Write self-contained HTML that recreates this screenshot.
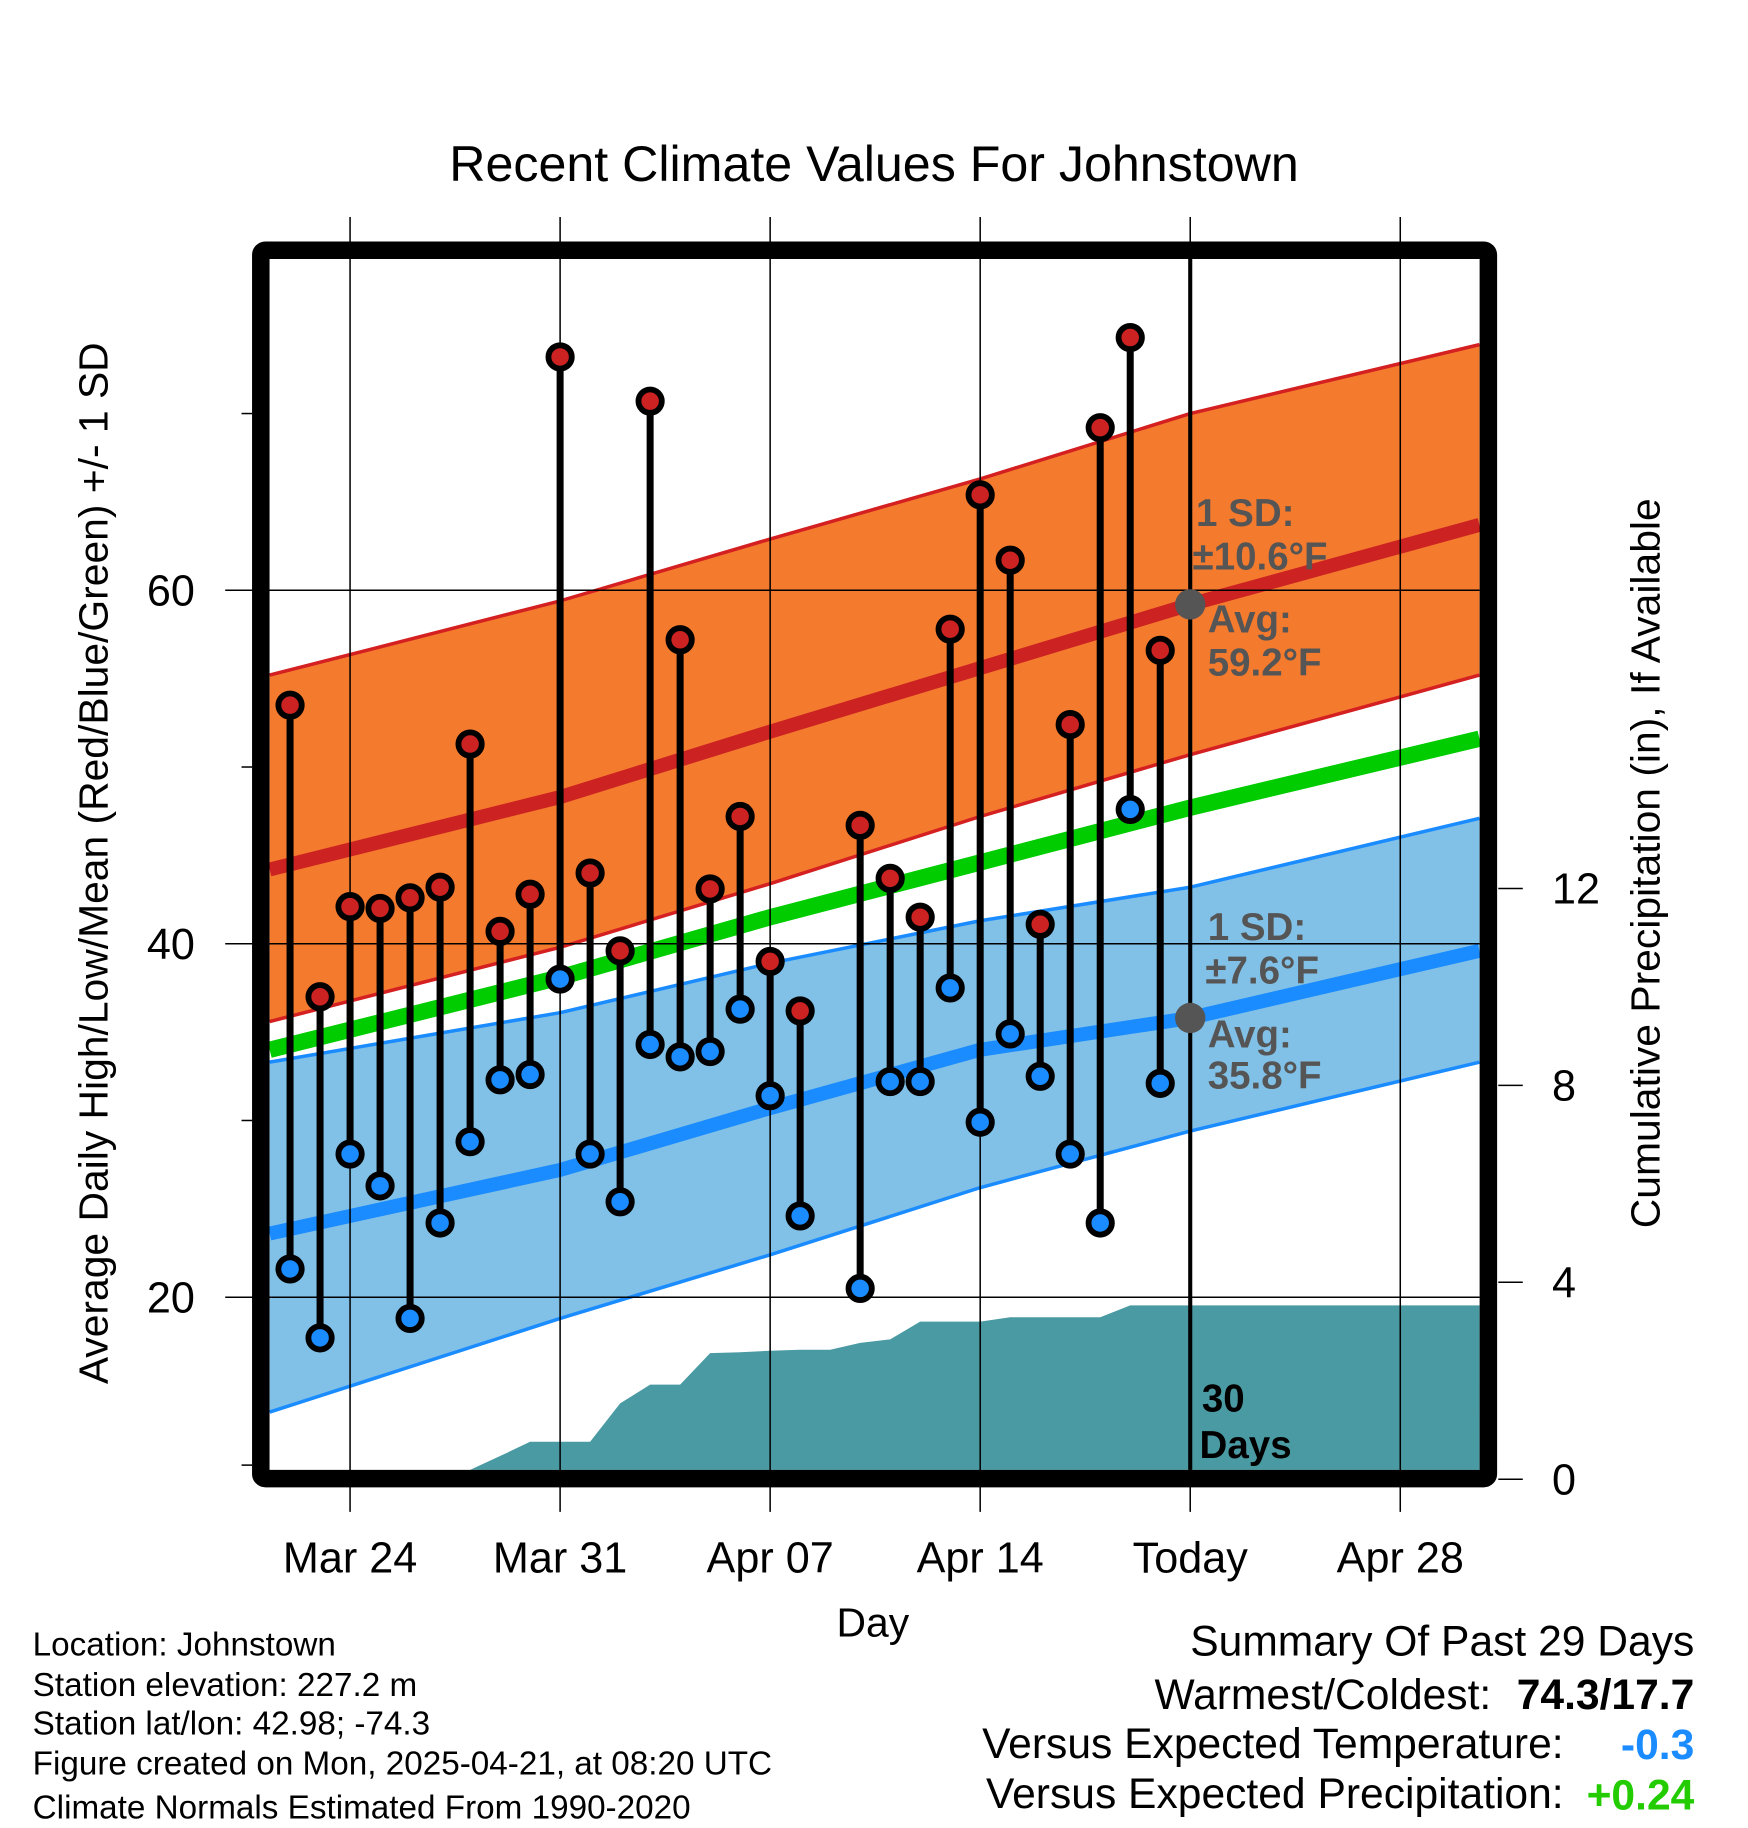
<!DOCTYPE html>
<html><head><meta charset="utf-8"><style>
html,body{margin:0;padding:0;background:#fff}
svg{display:block;font-family:"Liberation Sans",Arial,sans-serif}
</style></head><body>
<svg id="chart" width="1748" height="1828" viewBox="0 0 1498 1567" preserveAspectRatio="none" xmlns="http://www.w3.org/2000/svg">
<g id="layer"></g>
</svg>
<script>
// ---- data ----
const days = [-2,-1,0,1,2,3,4,5,6,7,8,9,10,11,12,13,14,15,17,18,19,20,21,22,23,24,25,26,27];
const highs = [53.5,37.0,42.1,42.0,42.6,43.2,51.3,40.7,42.8,73.2,44.0,39.6,70.7,57.2,43.1,47.2,39.0,36.2,46.7,43.7,41.5,57.8,65.4,61.7,41.1,52.4,69.2,74.3,56.6];
const lows  = [21.6,17.7,28.1,26.3,18.8,24.2,28.8,32.3,32.6,38.0,28.1,25.4,34.3,33.6,33.9,36.3,31.4,24.6,20.5,32.2,32.2,37.5,29.9,34.9,32.5,28.1,24.2,47.6,32.1];
const normDays = [-2.68,7,14,21,28,37.64];
const hiMean = [44.2,48.3,52.0,55.6,59.2,63.7];
const hiUpper = [55.2,59.4,62.9,66.3,70.0,73.9];
const hiLower = [35.6,39.8,43.4,47.2,50.7,55.2];
const avgMean = [34.0,38.1,41.5,44.6,47.7,51.6];
const loMean = [23.6,27.2,30.7,34.0,35.8,39.6];
const loUpper = [33.3,36.1,38.9,41.3,43.2,47.1];
const loLower = [13.5,18.8,22.4,26.2,29.4,33.3];
const precipDays = [4,5,6,7,8,9,10,11,12,13,14,15,16,17,18,19,20,21,22,23,24,25,26,27,37.64];
const precipVals = [0,0.47,0.76,0.76,0.76,1.54,1.92,1.92,2.56,2.58,2.61,2.63,2.63,2.77,2.84,3.20,3.20,3.20,3.29,3.29,3.29,3.29,3.53,3.53,3.53];
const xTickDays = [0,7,14,21,28,35];
const xTickLabels = ["Mar 24","Mar 31","Apr 07","Apr 14","Today","Apr 28"];
const yTicks = [20,40,60];
const yMinor = [30,50,70];
const pTicks = [0,4,8,12];

// ---- axes ----
const X = d => 300 + d*180/7;
const Y = t => 506 - (t-60)*15.15;
const P = p => 1268 - p*42.2;
const L=231,R=1268,T=222,B=1260;
const NS="http://www.w3.org/2000/svg";
const g=document.getElementById('layer');
function mk(tag,attrs,parent){const e=document.createElementNS(NS,tag);for(const k in attrs)e.setAttribute(k,attrs[k]);(parent||g).appendChild(e);return e;}
function txt(s,attrs){const e=mk('text',attrs);e.textContent=s;return e;}

function band(up,lo){let d='';normDays.forEach((v,i)=>d+=(i?'L':'M')+X(v)+','+Y(up[i]));for(let i=normDays.length-1;i>=0;i--)d+='L'+X(normDays[i])+','+Y(lo[i]);return d+'Z';}
function line(arr){let d='';normDays.forEach((v,i)=>d+=(i?'L':'M')+X(v)+','+Y(arr[i]));return d;}
let e;
e=mk('path',{d:band(hiUpper,hiLower),fill:'#f47a2e'});


e=mk('path',{d:band(loUpper,loLower),fill:'#82c1e7'});


[[hiUpper,'#d42020',3],[hiLower,'#d42020',3],[loUpper,'#1a8cff',3],[loLower,'#1a8cff',3],[hiMean,'#cc2222',12],[avgMean,'#00cc00',14],[loMean,'#1a8cff',12]].forEach((a,i)=>{
  e=mk('path',{d:line(a[0]),fill:'none',stroke:a[1],'stroke-width':a[2],'stroke-linejoin':'round'});
  
  
});
let pd='M'+X(precipDays[0])+','+B;
precipDays.forEach((v,i)=>pd+='L'+X(v)+','+Math.min(B,P(precipVals[i])));
pd+='L'+R+','+B+'Z';
e=mk('path',{d:pd,fill:'#4a9aa3'});


xTickDays.forEach((d,i)=>{
  e=mk('line',{x1:X(d),x2:X(d),y1:186,y2:1296,stroke:'#000','stroke-width':1.3});
  
  
  e=txt(xTickLabels[i],{x:X(d),y:1348,'font-size':37,'text-anchor':'middle'});
  
  
});
yTicks.forEach(t=>{
  e=mk('line',{x1:193,x2:R,y1:Y(t),y2:Y(t),stroke:'#000','stroke-width':1.3});
  
  
  e=txt(String(t),{x:167,y:Y(t)+13,'font-size':37,'text-anchor':'end'});
  
  
});
yMinor.concat([10.5]).forEach(t=>{
  e=mk('line',{x1:207,x2:216,y1:Y(t),y2:Y(t),stroke:'#000','stroke-width':1.3});
  
  
});
pTicks.forEach(p=>{
  e=mk('line',{x1:1284,x2:1305,y1:P(p),y2:P(p),stroke:'#000','stroke-width':1.3});
  
  
  e=txt(String(p),{x:1330,y:P(p)+13,'font-size':37});
  
  
});
e=mk('line',{x1:X(28),x2:X(28),y1:T,y2:B,stroke:'#000','stroke-width':3.5});


days.forEach((d,i)=>{
  e=mk('line',{x1:X(d),x2:X(d),y1:Y(highs[i]),y2:Y(lows[i]),stroke:'#000','stroke-width':6});
  
  
});
days.forEach((d,i)=>{
  e=mk('circle',{cx:X(d),cy:Y(highs[i]),r:10,fill:'#cc2222',stroke:'#000','stroke-width':5});
  
  
  e=mk('circle',{cx:X(d),cy:Y(lows[i]),r:10,fill:'#1a8cff',stroke:'#000','stroke-width':5});
  
  
});
e=mk('rect',{x:223.5,y:214.5,width:1052,height:1053,fill:'none',stroke:'#000','stroke-width':15,rx:4});


e=mk('circle',{cx:X(28),cy:Y(59.2),r:13,fill:'#555'});


e=mk('circle',{cx:X(28),cy:Y(35.8),r:13,fill:'#555'});


const ann=[["1 SD:",1025,451],["±10.6°F",1022,488],["Avg:",1035,542],["59.2°F",1035,579],["1 SD:",1035,806],["±7.6°F",1033,843],["Avg:",1035,898],["35.8°F",1035,933]];
ann.forEach(a=>{e=txt(a[0],{x:a[1],y:a[2],'font-size':33,'font-weight':'bold',fill:'#555'});

});
e=txt("30",{x:1030,y:1210,'font-size':33,'font-weight':'bold'});


e=txt("Days",{x:1028,y:1250,'font-size':33,'font-weight':'bold'});


</script>
<svg style="position:absolute;left:0;top:0" width="1748" height="1828" viewBox="0 0 1498 1567" preserveAspectRatio="none" xmlns="http://www.w3.org/2000/svg" font-family="Liberation Sans, Arial, sans-serif">
<text x="749" y="155" font-size="43" text-anchor="middle">Recent Climate Values For Johnstown</text>
<text transform="translate(92,740) rotate(-90)" font-size="35" text-anchor="middle">Average Daily High/Low/Mean (Red/Blue/Green) +/- 1 SD</text>
<text transform="translate(1422,740) rotate(-90)" font-size="35" text-anchor="middle">Cumulative Precipitation (in), If Available</text>
<text x="748" y="1403" font-size="35" text-anchor="middle">Day</text>
<g font-size="28.5">
<text x="28" y="1419">Location: Johnstown</text>
<text x="28" y="1454">Station elevation: 227.2 m</text>
<text x="28" y="1487">Station lat/lon: 42.98; -74.3</text>
<text x="28" y="1521">Figure created on Mon, 2025-04-21, at 08:20 UTC</text>
<text x="28" y="1559">Climate Normals Estimated From 1990-2020</text>
</g>
<g font-size="36.5" text-anchor="end">
<text x="1452" y="1419">Summary Of Past 29 Days</text>
<text x="1278" y="1465">Warmest/Coldest:</text>
<text x="1452" y="1465" font-weight="bold">74.3/17.7</text>
<text x="1340" y="1507">Versus Expected Temperature:</text>
<text x="1452" y="1508" font-weight="bold" fill="#1a8cff">-0.3</text>
<text x="1340" y="1550">Versus Expected Precipitation:</text>
<text x="1452" y="1551" font-weight="bold" fill="#22cc00">+0.24</text>
</g>
</svg>
</body></html>
